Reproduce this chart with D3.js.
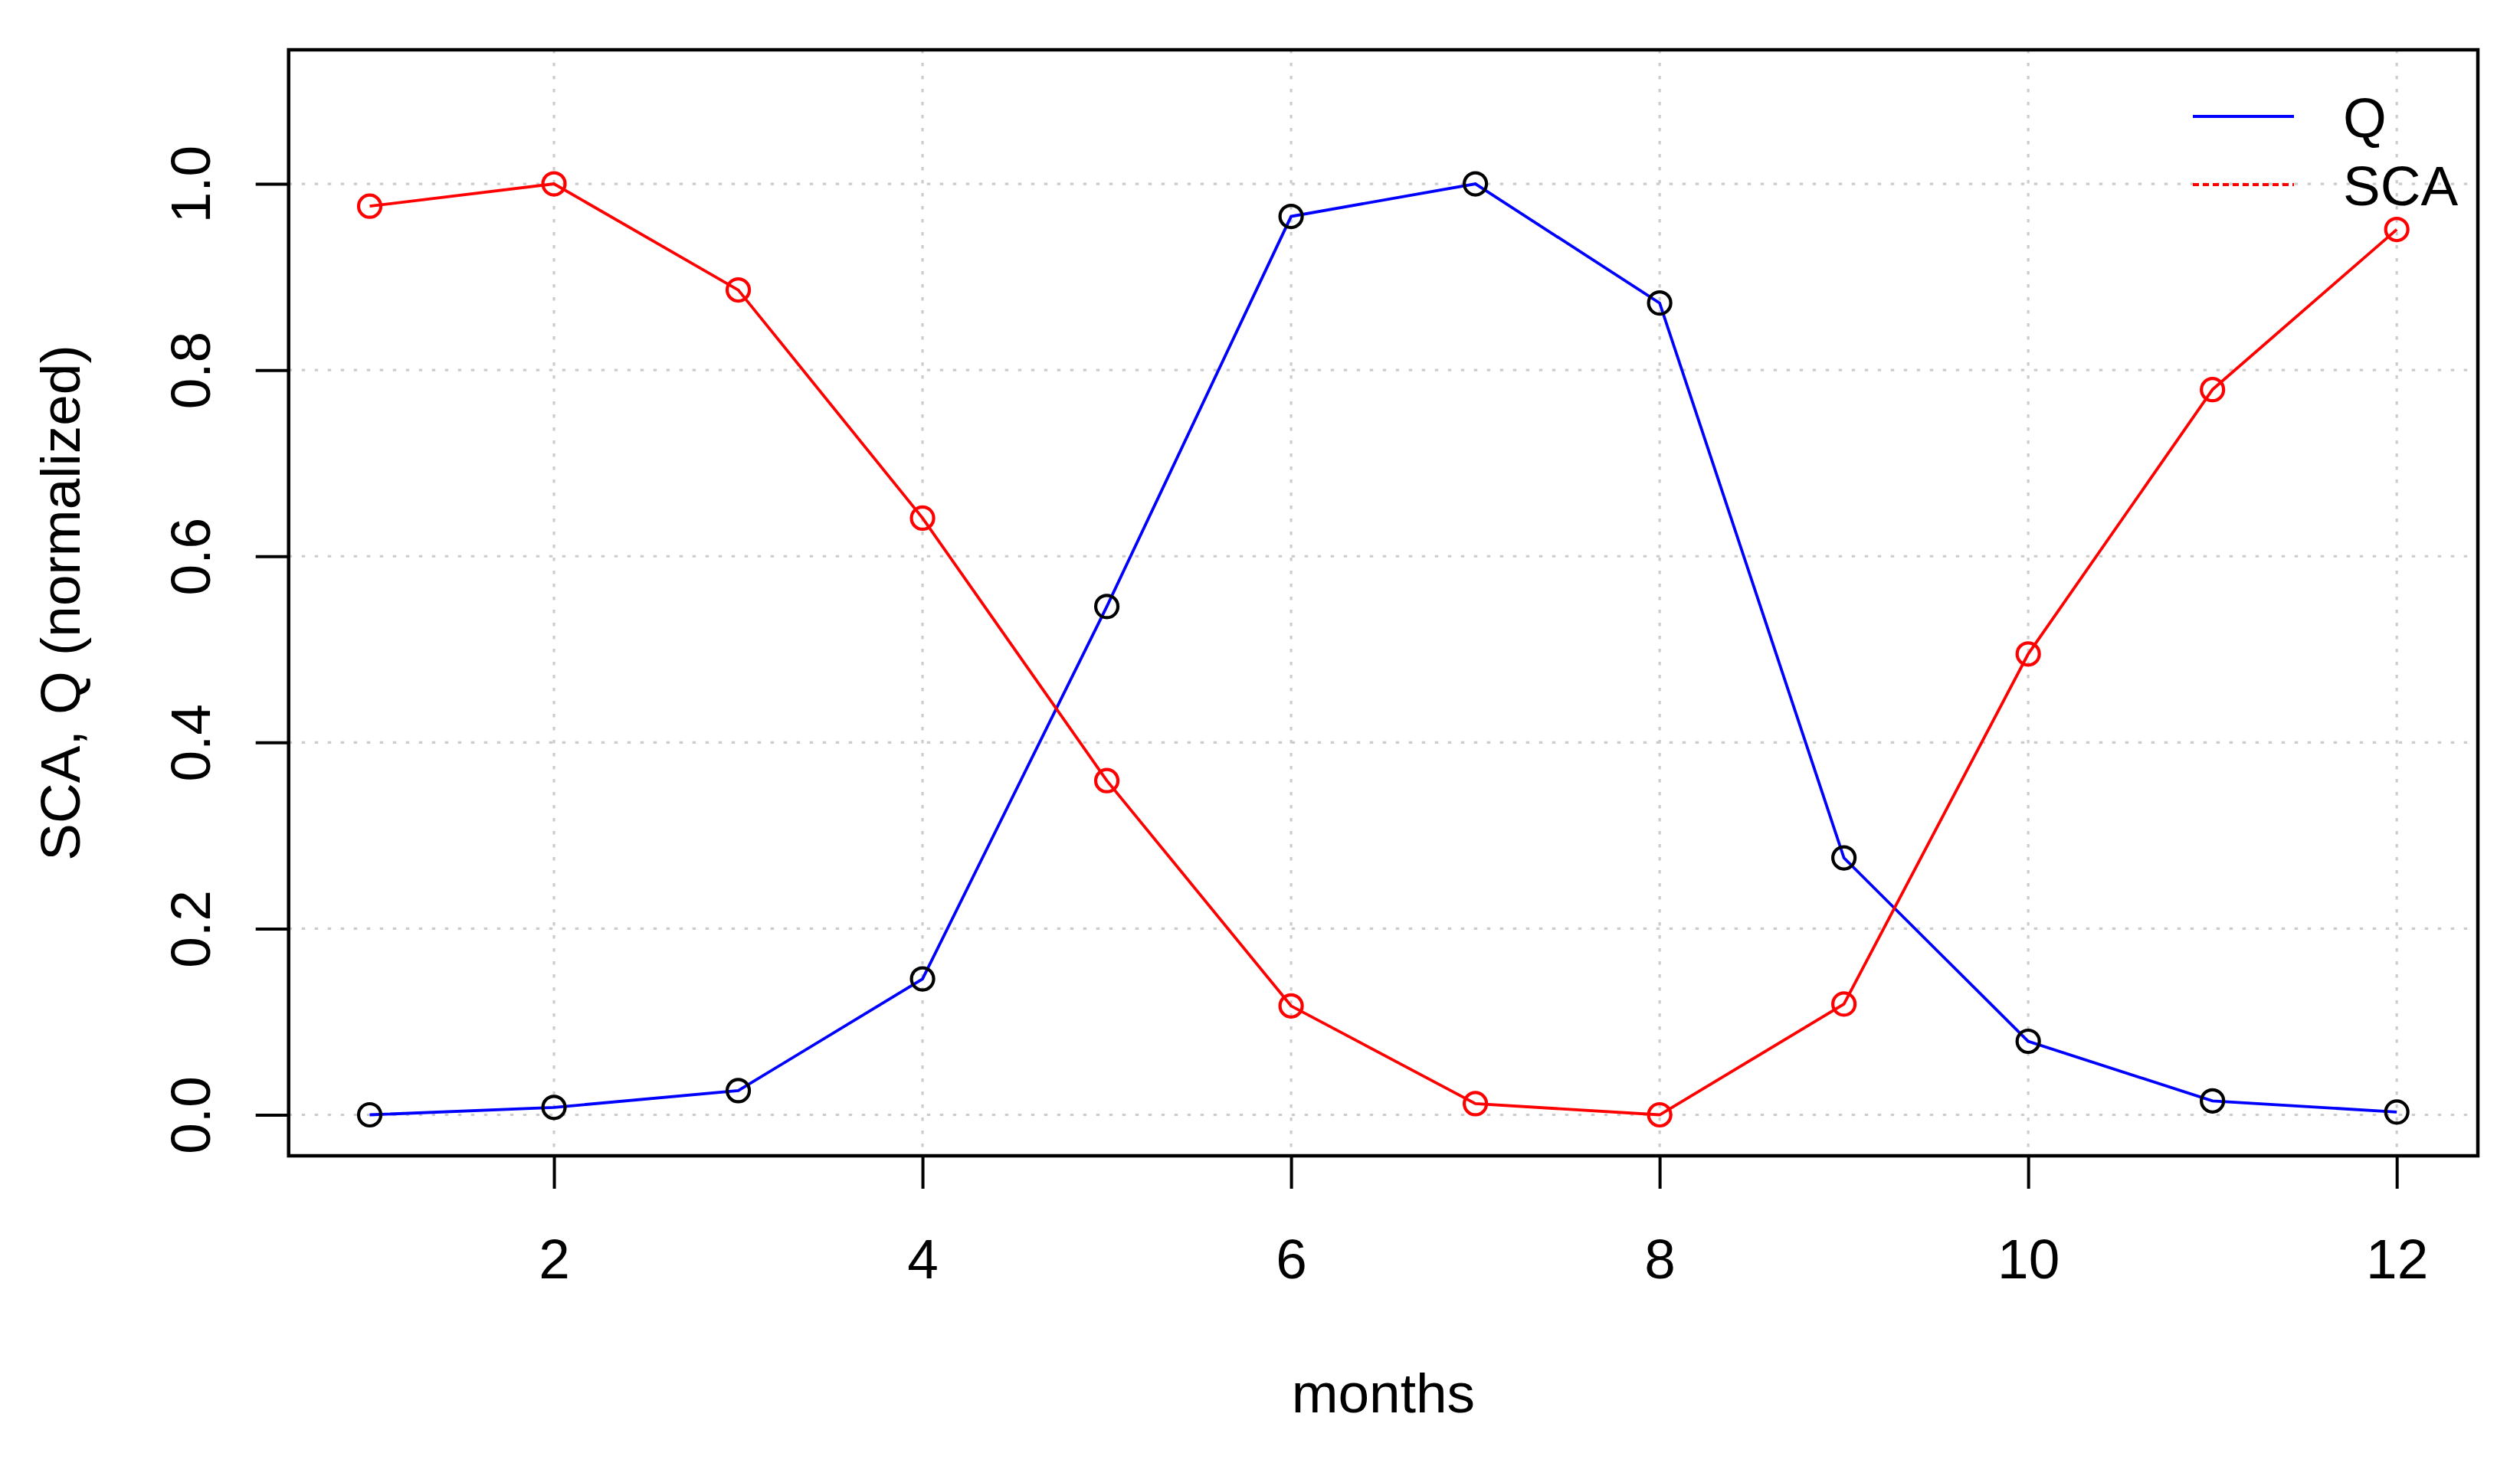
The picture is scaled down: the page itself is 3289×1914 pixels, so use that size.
<!DOCTYPE html>
<html>
<head>
<meta charset="utf-8">
<script src="https://cdn.jsdelivr.net/npm/d3@7"></script>
<style>
  html, body { margin: 0; padding: 0; background: #ffffff; }
  svg { display: block; }
  text { font-family: "Liberation Sans", Arial, Helvetica, sans-serif; fill: #000; }
</style>
</head>
<body>
<svg id="chart" width="3289" height="1914"></svg>
<script>
// ---- data ----
const months = [1, 2, 3, 4, 5, 6, 7, 8, 9, 10, 11, 12];
const qValues = [0.000, 0.008, 0.026, 0.146, 0.546, 0.965, 1.000, 0.872, 0.276, 0.079, 0.015, 0.003];
const scaValues = [0.976, 1.000, 0.886, 0.641, 0.359, 0.117, 0.012, 0.000, 0.119, 0.495, 0.779, 0.951];
const xTicks = [2, 4, 6, 8, 10, 12];
const yTicks = [0.0, 0.2, 0.4, 0.6, 0.8, 1.0];
const seriesNames = ["Q", "SCA"];
const xLabel = "months";
const yLabel = "SCA, Q (normalized)";

// ---- layout ----
const W = 3289, H = 1914;
const plot = { left: 376.7, right: 3234, top: 65, bottom: 1509 };
const FONT = 73;

const svg = d3.select("#chart");

const x = d3.scaleLinear().domain([0.56, 12.44]).range([plot.left, plot.right]);
const y = d3.scaleLinear().domain([-0.044, 1.144]).range([plot.bottom, plot.top]);

// grid
const grid = svg.append("g").attr("class", "grid");
grid.selectAll("line.v").data(xTicks).enter().append("line")
  .attr("x1", d => x(d)).attr("x2", d => x(d))
  .attr("y1", plot.top).attr("y2", plot.bottom)
  .attr("stroke", "#cccccc").attr("stroke-width", 3.2)
  .attr("stroke-dasharray", "4.5,12.5");
grid.selectAll("line.h").data(yTicks).enter().append("line")
  .attr("x1", plot.left).attr("x2", plot.right)
  .attr("y1", d => y(d)).attr("y2", d => y(d))
  .attr("stroke", "#cccccc").attr("stroke-width", 3.2)
  .attr("stroke-dasharray", "4.5,12.5");

// lines
const line = d3.line().x((d, i) => x(months[i])).y(d => y(d));

svg.append("path").datum(qValues)
  .attr("d", line).attr("fill", "none")
  .attr("stroke", "#0000ff").attr("stroke-width", 3.8);
svg.selectAll("circle.q").data(qValues).enter().append("circle")
  .attr("class", "q")
  .attr("cx", (d, i) => x(months[i])).attr("cy", d => y(d))
  .attr("r", 14.5).attr("fill", "none")
  .attr("stroke", "#000").attr("stroke-width", 4.2);

svg.append("path").datum(scaValues)
  .attr("d", line).attr("fill", "none")
  .attr("stroke", "#ff0000").attr("stroke-width", 3.8);
svg.selectAll("circle.sca").data(scaValues).enter().append("circle")
  .attr("class", "sca")
  .attr("cx", (d, i) => x(months[i])).attr("cy", d => y(d))
  .attr("r", 14.5).attr("fill", "none")
  .attr("stroke", "#ff0000").attr("stroke-width", 4.2);

// axes
const xAxis = d3.axisBottom(x).tickValues(xTicks).tickSize(43).tickPadding(0).tickFormat(d3.format("d"));
const gx = svg.append("g").attr("transform", `translate(0,${plot.bottom})`).call(xAxis);
gx.select(".domain").remove();
gx.selectAll(".tick line").attr("stroke", "#000").attr("stroke-width", 4);
gx.selectAll(".tick text")
  .attr("y", 1668.5 - plot.bottom).attr("dy", null)
  .attr("font-size", FONT).attr("font-family", "Liberation Sans, Arial, sans-serif")
  .attr("fill", "#000");

const yAxis = d3.axisLeft(y).tickValues(yTicks).tickSize(43).tickFormat(d3.format(".1f"));
const gy = svg.append("g").attr("transform", `translate(${plot.left},0)`).call(yAxis);
gy.select(".domain").remove();
gy.selectAll(".tick line").attr("stroke", "#000").attr("stroke-width", 4);
gy.selectAll(".tick text")
  .attr("x", 0).attr("dy", null)
  .attr("transform", `translate(${274 - plot.left},0) rotate(-90)`)
  .attr("text-anchor", "middle")
  .attr("font-size", FONT).attr("font-family", "Liberation Sans, Arial, sans-serif")
  .attr("fill", "#000");

// box
svg.append("rect")
  .attr("x", plot.left).attr("y", plot.top)
  .attr("width", plot.right - plot.left).attr("height", plot.bottom - plot.top)
  .attr("fill", "none").attr("stroke", "#000").attr("stroke-width", 4.5);

// axis titles
svg.append("text")
  .attr("x", (plot.left + plot.right) / 2).attr("y", 1843.5)
  .attr("text-anchor", "middle").attr("font-size", FONT)
  .text(xLabel);
svg.append("text")
  .attr("transform", `translate(104,${(plot.top + plot.bottom) / 2}) rotate(-90)`)
  .attr("text-anchor", "middle").attr("font-size", FONT)
  .text(yLabel);

// legend
const legend = svg.append("g").attr("class", "legend");
const legendColors = ["#0000ff", "#ff0000"];
const legendDash = [null, "8,5"];
const legendY = [152, 241];
seriesNames.forEach((name, i) => {
  legend.append("line")
    .attr("x1", 2862).attr("x2", 2994)
    .attr("y1", legendY[i]).attr("y2", legendY[i])
    .attr("stroke", legendColors[i]).attr("stroke-width", 4)
    .attr("stroke-dasharray", legendDash[i]);
  legend.append("text")
    .attr("x", 3058).attr("y", legendY[i] + 27)
    .attr("font-size", FONT)
    .text(name);
});
</script>
</body>
</html>
